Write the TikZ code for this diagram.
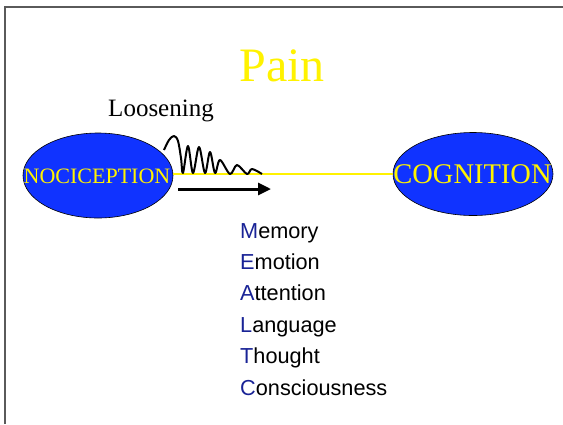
\documentclass[tikz,border=0pt]{standalone}
\usepackage{fontspec}
\setmainfont{Liberation Serif}
\newfontfamily\listfont{Liberation Sans}
\usetikzlibrary{arrows.meta,shapes.geometric}
\definecolor{ovalblue}{RGB}{16,51,255}
\definecolor{initblue}{RGB}{25,35,150}
\definecolor{frameg}{RGB}{90,90,90}
\tikzset{
  oval/.style={ellipse, draw=black, line width=0.6pt, fill=ovalblue, inner sep=0pt},
  ovaltext/.style={text=yellow, inner sep=0pt, anchor=base},
  listitem/.style={anchor=base west, inner sep=0pt, font=\listfont\fontsize{21.7}{24}\selectfont},
}
\newcommand{\lead}[1]{\textcolor{initblue}{#1}}
\begin{document}
\begin{tikzpicture}[x=1pt,y=-1pt]
\useasboundingbox (0,0) rectangle (563,424);
% page frame
\draw[frameg, line width=1.5pt] (5,424) -- (5,7) -- (563,7);
% title
\node[text=yellow, anchor=base, inner sep=0pt, font=\fontsize{48}{50}\selectfont] (title) at (282,81) {Pain};
\node[anchor=base, inner sep=0pt, font=\fontsize{25}{28}\selectfont] (loose) at (161,116) {Loosening};
% the two ovals
\node[oval, minimum width=150pt, minimum height=85pt] (noci) at (98,175.5) {};
\node[oval, minimum width=160pt, minimum height=83pt] (cog) at (473,174) {};
\draw[yellow, line width=2pt] (noci.east |- 0,174) -- (cog.west |- 0,174);
\node[ovaltext, font=\fontsize{22}{24}\selectfont] (nocit) at (97,183) {NOCICEPTION};
\node[ovaltext, font=\fontsize{28.5}{30}\selectfont] (cogt) at (472.5,183) {COGNITION};
% damped wave
\draw[black, line width=2pt, line join=round] plot[smooth, tension=0.55] coordinates {
  (164,150) (169,140) (174,136) (178,141) (181,158) (183,173) (188,146) (193,173) (199,147) (205,173)
  (210,152) (215,173) (220,160) (230,174) (237,165) (247,174) (252,169) (262,174)};
% arrow
\coordinate (arrS) at (178,189);
\coordinate (arrE) at (271,189);
\draw[line width=3pt, -{Triangle[length=13pt,width=12pt]}] (arrS) -- (arrE);
% list
\node[listitem] (m) at (240,238.0) {\lead{M}emory};
\node[listitem] (e) at (240,269.4) {\lead{E}motion};
\node[listitem] (a) at (240,300.8) {\lead{A}ttention};
\node[listitem] (l) at (240,332.2) {\lead{L}anguage};
\node[listitem] (t) at (240,363.6) {\lead{T}hought};
\node[listitem] (c) at (240,395.0) {\lead{C}onsciousness};
\end{tikzpicture}
\end{document}
